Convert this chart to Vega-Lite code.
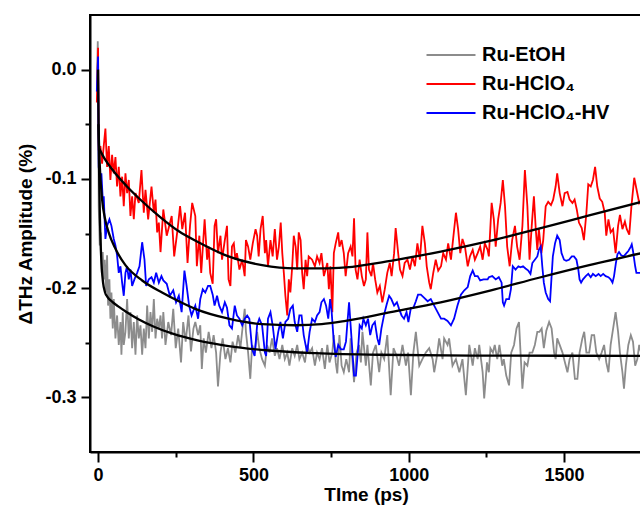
{
"$schema":"https://vega.github.io/schema/vega-lite/v6.json",
"width":552,"height":437,
"autosize":{"type":"none"},
"padding":{"left":90,"top":15,"right":0,"bottom":56},
"background":"white",
"config":{
"font":"Liberation Sans",
"view":{"stroke":"black","strokeWidth":2},
"axis":{"grid":false,"domainColor":"black","domainWidth":2,"tickColor":"black","tickWidth":2,"labelFont":"Liberation Sans","labelFontWeight":"bold","labelFontSize":18,"labelColor":"black","titleFont":"Liberation Sans","titleFontWeight":"bold","titleFontSize":19,"titleColor":"black"},
"legend":{"orient":"none","legendX":351,"legendY":30,"padding":0,"symbolType":"M-5,0H5","symbolSize":96,"symbolStrokeWidth":2,"labelOffset":21,"labelFont":"Liberation Sans","labelFontWeight":"bold","labelFontSize":20,"labelColor":"black","labelLimit":300,"rowPadding":9,"title":null}
},
"datasets":{
"gray":[{"t":-4,"v":-0.02},{"t":-1,"v":0.026},{"t":1,"v":-0.034},{"t":2,"v":-0.125},{"t":5.3,"v":-0.161},{"t":8.6,"v":-0.149},{"t":11.8,"v":-0.186},{"t":15,"v":-0.167},{"t":18.2,"v":-0.192},{"t":21.5,"v":-0.174},{"t":25.7,"v":-0.204},{"t":29,"v":-0.17},{"t":32.2,"v":-0.216},{"t":36.5,"v":-0.192},{"t":39.7,"v":-0.228},{"t":43,"v":-0.204},{"t":47.3,"v":-0.237},{"t":50.5,"v":-0.21},{"t":55.9,"v":-0.246},{"t":61.2,"v":-0.225},{"t":66.6,"v":-0.252},{"t":72,"v":-0.231},{"t":75.2,"v":-0.261},{"t":79.5,"v":-0.222},{"t":82.7,"v":-0.252},{"t":88.1,"v":-0.24},{"t":93.5,"v":-0.21},{"t":98.9,"v":-0.246},{"t":104.2,"v":-0.222},{"t":109.6,"v":-0.255},{"t":115,"v":-0.231},{"t":120.4,"v":-0.261},{"t":125.7,"v":-0.225},{"t":131.1,"v":-0.246},{"t":136.5,"v":-0.234},{"t":141.9,"v":-0.261},{"t":147.2,"v":-0.237},{"t":152.6,"v":-0.255},{"t":158,"v":-0.216},{"t":163.4,"v":-0.246},{"t":168.7,"v":-0.222},{"t":174.1,"v":-0.24},{"t":179.5,"v":-0.21},{"t":184.9,"v":-0.246},{"t":190.2,"v":-0.228},{"t":195.6,"v":-0.237},{"t":201,"v":-0.225},{"t":206,"v":-0.246},{"t":210,"v":-0.222},{"t":217,"v":-0.252},{"t":226,"v":-0.231},{"t":235,"v":-0.243},{"t":242,"v":-0.219},{"t":250,"v":-0.255},{"t":258,"v":-0.237},{"t":267,"v":-0.268},{"t":274,"v":-0.231},{"t":282,"v":-0.249},{"t":291,"v":-0.225},{"t":299,"v":-0.258},{"t":307,"v":-0.237},{"t":313,"v":-0.231},{"t":322,"v":-0.243},{"t":329,"v":-0.234},{"t":334,"v":-0.274},{"t":340,"v":-0.246},{"t":347,"v":-0.259},{"t":356,"v":-0.24},{"t":365,"v":-0.255},{"t":372,"v":-0.243},{"t":380,"v":-0.259},{"t":386,"v":-0.29},{"t":394,"v":-0.259},{"t":401,"v":-0.246},{"t":410,"v":-0.265},{"t":418,"v":-0.255},{"t":426,"v":-0.268},{"t":433,"v":-0.249},{"t":442,"v":-0.259},{"t":451,"v":-0.243},{"t":458,"v":-0.255},{"t":466,"v":-0.234},{"t":472,"v":-0.219},{"t":476,"v":-0.24},{"t":483,"v":-0.259},{"t":490,"v":-0.283},{"t":496,"v":-0.252},{"t":504,"v":-0.259},{"t":512,"v":-0.24},{"t":519,"v":-0.255},{"t":528,"v":-0.265},{"t":537,"v":-0.271},{"t":544,"v":-0.252},{"t":552,"v":-0.259},{"t":560,"v":-0.246},{"t":569,"v":-0.262},{"t":576,"v":-0.255},{"t":584,"v":-0.265},{"t":593,"v":-0.252},{"t":601,"v":-0.265},{"t":609,"v":-0.259},{"t":616,"v":-0.271},{"t":625,"v":-0.255},{"t":633,"v":-0.262},{"t":641,"v":-0.252},{"t":648,"v":-0.265},{"t":657,"v":-0.259},{"t":666,"v":-0.268},{"t":673,"v":-0.252},{"t":681,"v":-0.259},{"t":689,"v":-0.255},{"t":698,"v":-0.271},{"t":705,"v":-0.259},{"t":713,"v":-0.265},{"t":721,"v":-0.255},{"t":730,"v":-0.274},{"t":738,"v":-0.252},{"t":745,"v":-0.268},{"t":754,"v":-0.259},{"t":759,"v":-0.243},{"t":765,"v":-0.268},{"t":770,"v":-0.278},{"t":777,"v":-0.243},{"t":784,"v":-0.271},{"t":791,"v":-0.277},{"t":799,"v":-0.265},{"t":808,"v":-0.277},{"t":813,"v":-0.246},{"t":824,"v":-0.286},{"t":832,"v":-0.259},{"t":840,"v":-0.252},{"t":846,"v":-0.268},{"t":851,"v":-0.24},{"t":862,"v":-0.271},{"t":867,"v":-0.252},{"t":878,"v":-0.289},{"t":885,"v":-0.259},{"t":894,"v":-0.252},{"t":905,"v":-0.277},{"t":912,"v":-0.259},{"t":921,"v":-0.265},{"t":931,"v":-0.243},{"t":942,"v":-0.298},{"t":951,"v":-0.255},{"t":961,"v":-0.262},{"t":969,"v":-0.271},{"t":980,"v":-0.252},{"t":991,"v":-0.271},{"t":998,"v":-0.259},{"t":1007,"v":-0.298},{"t":1015,"v":-0.259},{"t":1023,"v":-0.24},{"t":1034,"v":-0.271},{"t":1044,"v":-0.265},{"t":1055,"v":-0.259},{"t":1066,"v":-0.255},{"t":1077,"v":-0.265},{"t":1082,"v":-0.277},{"t":1091,"v":-0.262},{"t":1098,"v":-0.246},{"t":1109,"v":-0.265},{"t":1114,"v":-0.246},{"t":1125,"v":-0.252},{"t":1130,"v":-0.246},{"t":1141,"v":-0.271},{"t":1152,"v":-0.265},{"t":1163,"v":-0.277},{"t":1173,"v":-0.265},{"t":1184,"v":-0.298},{"t":1195,"v":-0.252},{"t":1206,"v":-0.271},{"t":1213,"v":-0.255},{"t":1222,"v":-0.265},{"t":1227,"v":-0.252},{"t":1238,"v":-0.277},{"t":1243,"v":-0.301},{"t":1252,"v":-0.268},{"t":1258,"v":-0.277},{"t":1263,"v":-0.255},{"t":1271,"v":-0.259},{"t":1277,"v":-0.252},{"t":1285,"v":-0.265},{"t":1292,"v":-0.252},{"t":1301,"v":-0.271},{"t":1306,"v":-0.265},{"t":1314,"v":-0.28},{"t":1323,"v":-0.289},{"t":1330,"v":-0.259},{"t":1339,"v":-0.252},{"t":1347,"v":-0.237},{"t":1355,"v":-0.231},{"t":1360,"v":-0.259},{"t":1366,"v":-0.292},{"t":1373,"v":-0.268},{"t":1382,"v":-0.271},{"t":1389,"v":-0.259},{"t":1398,"v":-0.259},{"t":1406,"v":-0.252},{"t":1414,"v":-0.24},{"t":1421,"v":-0.24},{"t":1428,"v":-0.237},{"t":1435,"v":-0.255},{"t":1443,"v":-0.239},{"t":1452,"v":-0.231},{"t":1460,"v":-0.237},{"t":1468,"v":-0.259},{"t":1473,"v":-0.265},{"t":1478,"v":-0.246},{"t":1486,"v":-0.252},{"t":1495,"v":-0.259},{"t":1503,"v":-0.268},{"t":1511,"v":-0.277},{"t":1518,"v":-0.265},{"t":1527,"v":-0.259},{"t":1535,"v":-0.283},{"t":1543,"v":-0.283},{"t":1550,"v":-0.259},{"t":1559,"v":-0.246},{"t":1565,"v":-0.24},{"t":1572,"v":-0.259},{"t":1581,"v":-0.259},{"t":1589,"v":-0.243},{"t":1597,"v":-0.243},{"t":1604,"v":-0.259},{"t":1613,"v":-0.265},{"t":1621,"v":-0.259},{"t":1629,"v":-0.252},{"t":1636,"v":-0.268},{"t":1643,"v":-0.277},{"t":1650,"v":-0.252},{"t":1658,"v":-0.237},{"t":1666,"v":-0.222},{"t":1674,"v":-0.24},{"t":1680,"v":-0.259},{"t":1688,"v":-0.277},{"t":1693,"v":-0.292},{"t":1699,"v":-0.271},{"t":1707,"v":-0.252},{"t":1715,"v":-0.243},{"t":1722,"v":-0.249},{"t":1729,"v":-0.271},{"t":1736,"v":-0.265},{"t":1742,"v":-0.252},{"t":1748,"v":-0.259}],
"red":[{"t":-4,"v":-0.03},{"t":0,"v":0.02},{"t":2,"v":-0.074},{"t":7.5,"v":-0.07},{"t":12.9,"v":-0.086},{"t":18.2,"v":-0.07},{"t":23.6,"v":-0.054},{"t":29,"v":-0.089},{"t":34.4,"v":-0.07},{"t":39.7,"v":-0.101},{"t":45.1,"v":-0.078},{"t":50.5,"v":-0.095},{"t":55.9,"v":-0.08},{"t":61.2,"v":-0.107},{"t":66.6,"v":-0.089},{"t":72,"v":-0.116},{"t":77.4,"v":-0.098},{"t":82.7,"v":-0.125},{"t":88.1,"v":-0.095},{"t":93.5,"v":-0.113},{"t":98.9,"v":-0.101},{"t":104.2,"v":-0.134},{"t":109.6,"v":-0.116},{"t":115,"v":-0.137},{"t":120.4,"v":-0.113},{"t":131,"v":-0.122},{"t":139.7,"v":-0.092},{"t":147.2,"v":-0.131},{"t":152.6,"v":-0.11},{"t":161.2,"v":-0.137},{"t":172,"v":-0.107},{"t":179.5,"v":-0.131},{"t":184.9,"v":-0.119},{"t":190.2,"v":-0.149},{"t":195.6,"v":-0.14},{"t":201,"v":-0.167},{"t":210,"v":-0.128},{"t":221,"v":-0.152},{"t":237,"v":-0.134},{"t":245,"v":-0.171},{"t":256,"v":-0.146},{"t":264,"v":-0.125},{"t":271,"v":-0.146},{"t":280,"v":-0.131},{"t":288,"v":-0.177},{"t":296,"v":-0.143},{"t":303,"v":-0.122},{"t":313,"v":-0.134},{"t":318,"v":-0.18},{"t":326,"v":-0.152},{"t":332,"v":-0.186},{"t":343,"v":-0.137},{"t":351,"v":-0.174},{"t":356,"v":-0.162},{"t":361,"v":-0.186},{"t":369,"v":-0.196},{"t":375,"v":-0.143},{"t":380,"v":-0.137},{"t":386,"v":-0.168},{"t":394,"v":-0.152},{"t":399,"v":-0.174},{"t":408,"v":-0.156},{"t":415,"v":-0.143},{"t":420,"v":-0.192},{"t":426,"v":-0.198},{"t":431,"v":-0.162},{"t":437,"v":-0.159},{"t":442,"v":-0.174},{"t":447,"v":-0.168},{"t":455,"v":-0.183},{"t":464,"v":-0.174},{"t":472,"v":-0.189},{"t":476,"v":-0.156},{"t":483,"v":-0.162},{"t":490,"v":-0.174},{"t":498,"v":-0.159},{"t":507,"v":-0.146},{"t":512,"v":-0.152},{"t":517,"v":-0.171},{"t":523,"v":-0.146},{"t":530,"v":-0.134},{"t":537,"v":-0.168},{"t":541,"v":-0.156},{"t":547,"v":-0.18},{"t":555,"v":-0.156},{"t":562,"v":-0.171},{"t":569,"v":-0.146},{"t":576,"v":-0.174},{"t":582,"v":-0.162},{"t":588,"v":-0.14},{"t":593,"v":-0.168},{"t":598,"v":-0.186},{"t":603,"v":-0.207},{"t":609,"v":-0.225},{"t":614,"v":-0.192},{"t":619,"v":-0.204},{"t":625,"v":-0.18},{"t":630,"v":-0.152},{"t":636,"v":-0.162},{"t":641,"v":-0.183},{"t":646,"v":-0.149},{"t":652,"v":-0.156},{"t":657,"v":-0.186},{"t":662,"v":-0.201},{"t":668,"v":-0.174},{"t":673,"v":-0.189},{"t":678,"v":-0.171},{"t":689,"v":-0.174},{"t":698,"v":-0.18},{"t":705,"v":-0.171},{"t":713,"v":-0.177},{"t":719,"v":-0.168},{"t":727,"v":-0.189},{"t":738,"v":-0.177},{"t":743,"v":-0.201},{"t":748,"v":-0.18},{"t":754,"v":-0.222},{"t":759,"v":-0.168},{"t":765,"v":-0.159},{"t":773,"v":-0.149},{"t":777,"v":-0.162},{"t":784,"v":-0.156},{"t":791,"v":-0.168},{"t":797,"v":-0.189},{"t":805,"v":-0.168},{"t":813,"v":-0.162},{"t":819,"v":-0.171},{"t":824,"v":-0.136},{"t":829,"v":-0.183},{"t":835,"v":-0.192},{"t":842,"v":-0.174},{"t":849,"v":-0.189},{"t":856,"v":-0.198},{"t":862,"v":-0.192},{"t":867,"v":-0.149},{"t":872,"v":-0.183},{"t":880,"v":-0.189},{"t":885,"v":-0.177},{"t":892,"v":-0.192},{"t":899,"v":-0.204},{"t":907,"v":-0.198},{"t":915,"v":-0.213},{"t":923,"v":-0.201},{"t":931,"v":-0.186},{"t":939,"v":-0.177},{"t":945,"v":-0.189},{"t":953,"v":-0.168},{"t":958,"v":-0.145},{"t":966,"v":-0.168},{"t":972,"v":-0.183},{"t":980,"v":-0.189},{"t":987,"v":-0.177},{"t":996,"v":-0.174},{"t":1004,"v":-0.183},{"t":1012,"v":-0.171},{"t":1020,"v":-0.18},{"t":1028,"v":-0.159},{"t":1036,"v":-0.174},{"t":1044,"v":-0.143},{"t":1052,"v":-0.159},{"t":1058,"v":-0.18},{"t":1066,"v":-0.195},{"t":1071,"v":-0.201},{"t":1079,"v":-0.186},{"t":1087,"v":-0.174},{"t":1095,"v":-0.184},{"t":1104,"v":-0.18},{"t":1111,"v":-0.168},{"t":1120,"v":-0.174},{"t":1127,"v":-0.159},{"t":1136,"v":-0.174},{"t":1143,"v":-0.155},{"t":1152,"v":-0.131},{"t":1159,"v":-0.146},{"t":1166,"v":-0.168},{"t":1173,"v":-0.155},{"t":1181,"v":-0.162},{"t":1190,"v":-0.18},{"t":1197,"v":-0.171},{"t":1206,"v":-0.165},{"t":1213,"v":-0.174},{"t":1222,"v":-0.168},{"t":1230,"v":-0.162},{"t":1238,"v":-0.174},{"t":1245,"v":-0.159},{"t":1254,"v":-0.165},{"t":1258,"v":-0.171},{"t":1267,"v":-0.122},{"t":1274,"v":-0.137},{"t":1280,"v":-0.162},{"t":1288,"v":-0.137},{"t":1296,"v":-0.122},{"t":1303,"v":-0.101},{"t":1310,"v":-0.125},{"t":1317,"v":-0.162},{"t":1325,"v":-0.18},{"t":1333,"v":-0.156},{"t":1342,"v":-0.143},{"t":1349,"v":-0.162},{"t":1357,"v":-0.174},{"t":1366,"v":-0.143},{"t":1374,"v":-0.092},{"t":1382,"v":-0.125},{"t":1389,"v":-0.174},{"t":1396,"v":-0.143},{"t":1403,"v":-0.116},{"t":1409,"v":-0.146},{"t":1414,"v":-0.165},{"t":1419,"v":-0.146},{"t":1427,"v":-0.168},{"t":1433,"v":-0.156},{"t":1441,"v":-0.125},{"t":1449,"v":-0.121},{"t":1458,"v":-0.124},{"t":1465,"v":-0.119},{"t":1473,"v":-0.107},{"t":1478,"v":-0.095},{"t":1486,"v":-0.113},{"t":1495,"v":-0.125},{"t":1502,"v":-0.113},{"t":1511,"v":-0.112},{"t":1518,"v":-0.119},{"t":1527,"v":-0.122},{"t":1534,"v":-0.119},{"t":1541,"v":-0.128},{"t":1548,"v":-0.14},{"t":1557,"v":-0.145},{"t":1564,"v":-0.156},{"t":1572,"v":-0.131},{"t":1578,"v":-0.105},{"t":1586,"v":-0.107},{"t":1593,"v":-0.101},{"t":1600,"v":-0.089},{"t":1607,"v":-0.107},{"t":1615,"v":-0.118},{"t":1623,"v":-0.121},{"t":1631,"v":-0.131},{"t":1636,"v":-0.152},{"t":1643,"v":-0.137},{"t":1650,"v":-0.149},{"t":1658,"v":-0.146},{"t":1666,"v":-0.168},{"t":1674,"v":-0.143},{"t":1680,"v":-0.133},{"t":1688,"v":-0.146},{"t":1696,"v":-0.139},{"t":1702,"v":-0.146},{"t":1710,"v":-0.151},{"t":1717,"v":-0.125},{"t":1726,"v":-0.099},{"t":1733,"v":-0.109},{"t":1742,"v":-0.122},{"t":1748,"v":-0.119}],
"blue":[{"t":-4,"v":-0.02},{"t":0,"v":0.012},{"t":2,"v":-0.089},{"t":7.5,"v":-0.104},{"t":10.7,"v":-0.095},{"t":15,"v":-0.119},{"t":18.2,"v":-0.116},{"t":23.6,"v":-0.155},{"t":29,"v":-0.143},{"t":36.5,"v":-0.137},{"t":43,"v":-0.143},{"t":50.5,"v":-0.155},{"t":55.9,"v":-0.161},{"t":61.2,"v":-0.17},{"t":66.6,"v":-0.186},{"t":72,"v":-0.18},{"t":77.4,"v":-0.195},{"t":82.7,"v":-0.207},{"t":88.1,"v":-0.186},{"t":93.5,"v":-0.18},{"t":98.9,"v":-0.192},{"t":104.2,"v":-0.183},{"t":109.6,"v":-0.198},{"t":117,"v":-0.192},{"t":125.7,"v":-0.186},{"t":133.3,"v":-0.18},{"t":141.9,"v":-0.158},{"t":149.4,"v":-0.174},{"t":154.8,"v":-0.198},{"t":163.4,"v":-0.192},{"t":172,"v":-0.19},{"t":179.5,"v":-0.195},{"t":187,"v":-0.186},{"t":195.6,"v":-0.195},{"t":204,"v":-0.189},{"t":210,"v":-0.193},{"t":221,"v":-0.196},{"t":231,"v":-0.207},{"t":242,"v":-0.202},{"t":251,"v":-0.213},{"t":260,"v":-0.207},{"t":269,"v":-0.222},{"t":278,"v":-0.184},{"t":285,"v":-0.198},{"t":293,"v":-0.216},{"t":301,"v":-0.225},{"t":313,"v":-0.216},{"t":322,"v":-0.228},{"t":329,"v":-0.21},{"t":337,"v":-0.201},{"t":345,"v":-0.204},{"t":354,"v":-0.198},{"t":361,"v":-0.198},{"t":369,"v":-0.206},{"t":375,"v":-0.216},{"t":383,"v":-0.207},{"t":390,"v":-0.216},{"t":399,"v":-0.222},{"t":408,"v":-0.213},{"t":415,"v":-0.218},{"t":423,"v":-0.234},{"t":431,"v":-0.237},{"t":440,"v":-0.216},{"t":447,"v":-0.225},{"t":455,"v":-0.228},{"t":464,"v":-0.234},{"t":472,"v":-0.228},{"t":480,"v":-0.225},{"t":487,"v":-0.228},{"t":496,"v":-0.256},{"t":504,"v":-0.262},{"t":512,"v":-0.234},{"t":519,"v":-0.228},{"t":528,"v":-0.234},{"t":537,"v":-0.259},{"t":541,"v":-0.262},{"t":547,"v":-0.228},{"t":555,"v":-0.222},{"t":562,"v":-0.234},{"t":571,"v":-0.256},{"t":580,"v":-0.24},{"t":587,"v":-0.231},{"t":595,"v":-0.246},{"t":603,"v":-0.231},{"t":612,"v":-0.228},{"t":619,"v":-0.219},{"t":627,"v":-0.216},{"t":633,"v":-0.231},{"t":641,"v":-0.24},{"t":648,"v":-0.225},{"t":655,"v":-0.225},{"t":662,"v":-0.243},{"t":668,"v":-0.252},{"t":673,"v":-0.259},{"t":681,"v":-0.24},{"t":689,"v":-0.228},{"t":698,"v":-0.231},{"t":705,"v":-0.225},{"t":713,"v":-0.222},{"t":719,"v":-0.213},{"t":727,"v":-0.21},{"t":734,"v":-0.216},{"t":741,"v":-0.228},{"t":747,"v":-0.21},{"t":752,"v":-0.222},{"t":758,"v":-0.246},{"t":765,"v":-0.263},{"t":773,"v":-0.252},{"t":782,"v":-0.256},{"t":791,"v":-0.256},{"t":798,"v":-0.249},{"t":802,"v":-0.234},{"t":808,"v":-0.213},{"t":813,"v":-0.234},{"t":819,"v":-0.259},{"t":824,"v":-0.28},{"t":830,"v":-0.28},{"t":837,"v":-0.256},{"t":842,"v":-0.234},{"t":849,"v":-0.237},{"t":854,"v":-0.228},{"t":862,"v":-0.234},{"t":869,"v":-0.228},{"t":876,"v":-0.243},{"t":883,"v":-0.234},{"t":891,"v":-0.231},{"t":899,"v":-0.246},{"t":905,"v":-0.252},{"t":912,"v":-0.237},{"t":921,"v":-0.224},{"t":929,"v":-0.215},{"t":937,"v":-0.207},{"t":944,"v":-0.21},{"t":953,"v":-0.216},{"t":962,"v":-0.213},{"t":969,"v":-0.219},{"t":977,"v":-0.225},{"t":985,"v":-0.228},{"t":993,"v":-0.222},{"t":999,"v":-0.231},{"t":1007,"v":-0.218},{"t":1015,"v":-0.218},{"t":1023,"v":-0.212},{"t":1030,"v":-0.206},{"t":1039,"v":-0.206},{"t":1050,"v":-0.209},{"t":1061,"v":-0.212},{"t":1071,"v":-0.21},{"t":1082,"v":-0.216},{"t":1093,"v":-0.222},{"t":1104,"v":-0.228},{"t":1114,"v":-0.228},{"t":1125,"v":-0.23},{"t":1136,"v":-0.234},{"t":1146,"v":-0.228},{"t":1157,"v":-0.216},{"t":1168,"v":-0.206},{"t":1179,"v":-0.202},{"t":1190,"v":-0.199},{"t":1198,"v":-0.189},{"t":1206,"v":-0.184},{"t":1213,"v":-0.189},{"t":1222,"v":-0.189},{"t":1230,"v":-0.193},{"t":1241,"v":-0.192},{"t":1254,"v":-0.192},{"t":1258,"v":-0.19},{"t":1269,"v":-0.189},{"t":1280,"v":-0.192},{"t":1290,"v":-0.19},{"t":1299,"v":-0.195},{"t":1303,"v":-0.213},{"t":1307,"v":-0.216},{"t":1314,"v":-0.21},{"t":1323,"v":-0.21},{"t":1329,"v":-0.201},{"t":1335,"v":-0.18},{"t":1344,"v":-0.183},{"t":1353,"v":-0.18},{"t":1360,"v":-0.181},{"t":1368,"v":-0.18},{"t":1376,"v":-0.182},{"t":1385,"v":-0.184},{"t":1392,"v":-0.187},{"t":1398,"v":-0.177},{"t":1406,"v":-0.174},{"t":1414,"v":-0.171},{"t":1419,"v":-0.165},{"t":1425,"v":-0.162},{"t":1430,"v":-0.18},{"t":1435,"v":-0.195},{"t":1441,"v":-0.204},{"t":1449,"v":-0.21},{"t":1455,"v":-0.212},{"t":1460,"v":-0.189},{"t":1464,"v":-0.171},{"t":1471,"v":-0.159},{"t":1478,"v":-0.152},{"t":1486,"v":-0.156},{"t":1492,"v":-0.168},{"t":1500,"v":-0.174},{"t":1507,"v":-0.175},{"t":1516,"v":-0.174},{"t":1525,"v":-0.171},{"t":1532,"v":-0.171},{"t":1540,"v":-0.174},{"t":1546,"v":-0.183},{"t":1550,"v":-0.192},{"t":1555,"v":-0.195},{"t":1561,"v":-0.192},{"t":1570,"v":-0.189},{"t":1578,"v":-0.187},{"t":1586,"v":-0.19},{"t":1593,"v":-0.187},{"t":1602,"v":-0.189},{"t":1611,"v":-0.187},{"t":1618,"v":-0.189},{"t":1626,"v":-0.187},{"t":1634,"v":-0.189},{"t":1643,"v":-0.19},{"t":1650,"v":-0.192},{"t":1656,"v":-0.195},{"t":1661,"v":-0.189},{"t":1667,"v":-0.177},{"t":1672,"v":-0.169},{"t":1677,"v":-0.167},{"t":1684,"v":-0.17},{"t":1692,"v":-0.171},{"t":1701,"v":-0.168},{"t":1707,"v":-0.166},{"t":1715,"v":-0.162},{"t":1718,"v":-0.16},{"t":1722,"v":-0.166},{"t":1729,"v":-0.18},{"t":1733,"v":-0.186},{"t":1742,"v":-0.186},{"t":1748,"v":-0.186}],
"fits":[{"f":"g","t":0,"v":0},{"f":"g","t":2,"v":-0.0628},{"f":"g","t":4,"v":-0.1063},{"f":"g","t":6,"v":-0.1366},{"f":"g","t":8,"v":-0.1575},{"f":"g","t":12,"v":-0.1825},{"f":"g","t":16,"v":-0.1949},{"f":"g","t":22,"v":-0.2035},{"f":"g","t":30,"v":-0.208},{"f":"g","t":45,"v":-0.2124},{"f":"g","t":65,"v":-0.2167},{"f":"g","t":90,"v":-0.2216},{"f":"g","t":130,"v":-0.2284},{"f":"g","t":180,"v":-0.2353},{"f":"g","t":240,"v":-0.2417},{"f":"g","t":320,"v":-0.2479},{"f":"g","t":420,"v":-0.2531},{"f":"g","t":550,"v":-0.2571},{"f":"g","t":700,"v":-0.2595},{"f":"g","t":900,"v":-0.261},{"f":"g","t":1200,"v":-0.2617},{"f":"g","t":1750,"v":-0.262},
{"f":"r","t":3,"v":-0.072},{"f":"r","t":20,"v":-0.081},{"f":"r","t":50,"v":-0.093},{"f":"r","t":90,"v":-0.106},{"f":"r","t":140,"v":-0.12},{"f":"r","t":200,"v":-0.135},{"f":"r","t":260,"v":-0.148},{"f":"r","t":323,"v":-0.158},{"f":"r","t":420,"v":-0.171},{"f":"r","t":528,"v":-0.179},{"f":"r","t":635,"v":-0.182},{"f":"r","t":720,"v":-0.182},{"f":"r","t":797,"v":-0.181},{"f":"r","t":942,"v":-0.175},{"f":"r","t":1103,"v":-0.1665},{"f":"r","t":1265,"v":-0.1565},{"f":"r","t":1419,"v":-0.1455},{"f":"r","t":1581,"v":-0.1335},{"f":"r","t":1750,"v":-0.121},
{"f":"b","t":1,"v":-0.05},{"f":"b","t":5,"v":-0.085},{"f":"b","t":13,"v":-0.119},{"f":"b","t":22,"v":-0.136},{"f":"b","t":34,"v":-0.149},{"f":"b","t":56,"v":-0.164},{"f":"b","t":88,"v":-0.179},{"f":"b","t":142,"v":-0.193},{"f":"b","t":206,"v":-0.204},{"f":"b","t":260,"v":-0.212},{"f":"b","t":313,"v":-0.219},{"f":"b","t":420,"v":-0.228},{"f":"b","t":528,"v":-0.233},{"f":"b","t":635,"v":-0.234},{"f":"b","t":720,"v":-0.233},{"f":"b","t":797,"v":-0.23},{"f":"b","t":942,"v":-0.222},{"f":"b","t":1103,"v":-0.213},{"f":"b","t":1265,"v":-0.202},{"f":"b","t":1419,"v":-0.1905},{"f":"b","t":1581,"v":-0.179},{"f":"b","t":1750,"v":-0.168}]
},
"encoding":{
"x":{"field":"t","type":"quantitative","scale":{"domain":[-26,1751],"nice":false,"zero":false},
"axis":{"values":[0,250,500,750,1000,1250,1500],"format":"d","labelExpr":"datum.value % 500 === 0 ? datum.label : ''","tickSize":{"condition":{"test":"datum.value % 500 === 0","value":10},"value":5},"labelPadding":4,"title":"TIme (ps)","titlePadding":1}},
"y":{"field":"v","type":"quantitative","scale":{"domain":[-0.35,0.05],"nice":false,"zero":false},
"axis":{"values":[0,-0.05,-0.1,-0.15,-0.2,-0.25,-0.3],"labelExpr":"abs(datum.value*10 - round(datum.value*10)) < 0.001 ? (datum.value < -0.001 ? '-' : '') + format(abs(datum.value), '.1f') : ''","tickSize":{"condition":{"test":"abs(datum.value*10 - round(datum.value*10)) < 0.001","value":9},"value":5},"labelPadding":5,"title":"ΔTHz Amplitude (%)","titlePadding":9}}
},
"layer":[
{"data":{"name":"gray"},"mark":{"type":"line","strokeWidth":1.8,"clip":true},"encoding":{"color":{"datum":"Ru-EtOH","type":"nominal","scale":{"domain":["Ru-EtOH","Ru-HClO₄","Ru-HClO₄-HV"],"range":["#8c8c8c","#ff0000","#0000ff"]}}}},
{"data":{"name":"red"},"mark":{"type":"line","strokeWidth":1.8,"clip":true},"encoding":{"color":{"datum":"Ru-HClO₄","type":"nominal"}}},
{"data":{"name":"blue"},"mark":{"type":"line","strokeWidth":1.8,"clip":true},"encoding":{"color":{"datum":"Ru-HClO₄-HV","type":"nominal"}}},
{"data":{"name":"fits"},"mark":{"type":"line","strokeWidth":2.3,"color":"black","interpolate":"monotone","clip":true},"encoding":{"detail":{"field":"f","type":"nominal"}}}
]
}
